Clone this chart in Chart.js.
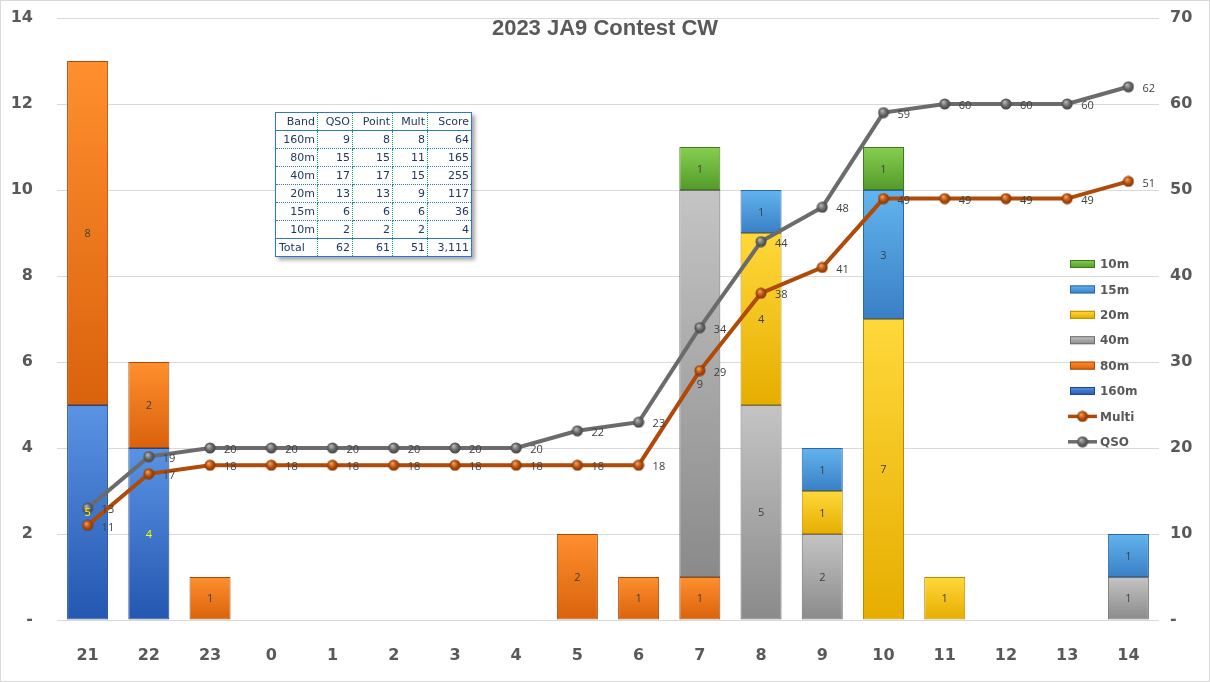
<!DOCTYPE html>
<html><head><meta charset="utf-8">
<script src="https://cdn.jsdelivr.net/npm/chart.js@4"></script>
<style>
html,body{margin:0;padding:0;background:#fff;}
#wrap{position:relative;width:1210px;height:682px;overflow:hidden;}
#c{position:absolute;left:0;top:0;}
#tbl{position:absolute;left:275px;top:112px;border-collapse:collapse;font:11px "DejaVu Sans",sans-serif;color:#1f3864;background:#fff;border:1.5px solid #2f75d6;box-shadow:3px 3px 4px rgba(0,0,0,0.35);table-layout:fixed;}
#tbl td{height:17px;padding:0 2px 0 0;text-align:right;border-right:1px dotted #00b050;border-bottom:1px dotted #2f75d6;white-space:nowrap;line-height:17px;}
#tbl td:last-child{border-right:none;}
#tbl tr.h td{border-bottom:1px solid #2f75d6;}
#tbl tr.t td{border-top:1px solid #2f75d6;border-bottom:none;text-align:right;}
#tbl tr.t td:first-child{text-align:left;padding-left:3px;}
</style>
</head><body>
<div id="wrap"><canvas id="c" width="1210" height="682"></canvas><table id="tbl"></table></div>
<script>
const hours = ['21','22','23','0','1','2','3','4','5','6','7','8','9','10','11','12','13','14'];
const b160 = [5,4,0,0,0,0,0,0,0,0,0,0,0,0,0,0,0,0];
const b80  = [8,2,1,0,0,0,0,0,2,1,1,0,0,0,0,0,0,0];
const b40  = [0,0,0,0,0,0,0,0,0,0,9,5,2,0,0,0,0,1];
const b20  = [0,0,0,0,0,0,0,0,0,0,0,4,1,7,1,0,0,0];
const b15  = [0,0,0,0,0,0,0,0,0,0,0,1,1,3,0,0,0,1];
const b10  = [0,0,0,0,0,0,0,0,0,0,1,0,0,1,0,0,0,0];
const qso  = [13,19,20,20,20,20,20,20,22,23,34,44,48,59,60,60,60,62];
const multi= [11,17,18,18,18,18,18,18,18,18,29,38,41,49,49,49,49,51];
const leftTicks = [0,2,4,6,8,10,12,14];
const rightTicks = [0,10,20,30,40,50,60,70];
const tableHead = ['Band','QSO','Point','Mult','Score'];
const tableRows = [
  ['160m','9','8','8','64'],
  ['80m','15','15','11','165'],
  ['40m','17','17','15','255'],
  ['20m','13','13','9','117'],
  ['15m','6','6','6','36'],
  ['10m','2','2','2','4']
];
const tableTotal = ['Total','62','61','51','3,111'];
const title = '2023 JA9 Contest CW';

// table
(function(){
  const t = document.getElementById('tbl');
  const widths=[42,35,40,35,44];
  let cg='<colgroup>'+widths.map(w=>'<col style="width:'+w+'px">').join('')+'</colgroup>';
  let h='<tr class="h">'+tableHead.map(x=>'<td>'+x+'</td>').join('')+'</tr>';
  let b=tableRows.map(r=>'<tr>'+r.map(x=>'<td>'+x+'</td>').join('')+'</tr>').join('');
  let tt='<tr class="t">'+tableTotal.map(x=>'<td>'+x+'</td>').join('')+'</tr>';
  t.innerHTML=cg+h+b+tt;
})();

const bandDefs = [
  {label:'160m', data:b160, top:'#5a93e4', bot:'#2457b0', edge:'#1d4690', lab:'#ffff00'},
  {label:'80m',  data:b80,  top:'#ff8f2e', bot:'#d9620c', edge:'#a9490a', lab:'#404040'},
  {label:'40m',  data:b40,  top:'#c4c4c4', bot:'#8a8a8a', edge:'#6e6e6e', lab:'#404040'},
  {label:'20m',  data:b20,  top:'#ffd83a', bot:'#e6ad00', edge:'#b88a00', lab:'#404040'},
  {label:'15m',  data:b15,  top:'#62b4ee', bot:'#3a7fc6', edge:'#2d66a4', lab:'#404040'},
  {label:'10m',  data:b10,  top:'#86cf50', bot:'#549a2a', edge:'#3f7a1e', lab:'#404040'}
];

function sphere(base, light, dark){
  const c=document.createElement('canvas'); const r=5.5; c.width=c.height=12;
  const g=c.getContext('2d');
  const gr=g.createRadialGradient(4.5,4,0.5,6,6,6);
  gr.addColorStop(0,light); gr.addColorStop(0.5,base); gr.addColorStop(1,dark);
  g.fillStyle=gr; g.beginPath(); g.arc(6,6,r,0,Math.PI*2); g.fill();
  return c;
}
const qsoPt = sphere('#6a6a6a','#b5b5b5','#3c3c3c');
const mulPt = sphere('#b8500c','#f0a060','#7a3000');

function barGrad(def, di){
  return function(ctx){
    if(ctx.type!=='data') return def.top;
    const ch=ctx.chart, y=ch.scales && ch.scales.y;
    if(!y || !ch.chartArea) return def.top;
    const i=ctx.dataIndex;
    let start=0; for(let k=0;k<di;k++) start+=bandDefs[k].data[i];
    const end=start+def.data[i];
    const p0=y.getPixelForValue(end), p1=y.getPixelForValue(start);
    if(!isFinite(p0)||!isFinite(p1)||p0===p1) return def.top;
    const g=ch.ctx.createLinearGradient(0,p0,0,p1);
    g.addColorStop(0,def.top); g.addColorStop(1,def.bot);
    return g;
  };
}

const datasets = [
  {type:'line', label:'QSO', data:qso, yAxisID:'y1', borderColor:'#6b6b6b', borderWidth:4, pointStyle:qsoPt, pointRadius:6, order:0, labColor:'#404040'},
  {type:'line', label:'Multi', data:multi, yAxisID:'y1', borderColor:'#b04a08', borderWidth:4, pointStyle:mulPt, pointRadius:6, order:0, labColor:'#404040'}
];
bandDefs.forEach((d,di)=>{
  datasets.push({type:'bar', label:d.label, data:d.data, yAxisID:'y', stack:'s', order:1,
    backgroundColor:barGrad(d,di), borderColor:d.edge, borderWidth:1, borderSkipped:false,
    barPercentage:0.67, categoryPercentage:1, labColor:d.lab});
});

const labelsPlugin = {
  id:'labs',
  afterDatasetsDraw(chart){
    const c=chart.ctx; c.save();
    c.font='11px "Open Sans", sans-serif';
    chart.data.datasets.forEach((ds,i)=>{
      const meta=chart.getDatasetMeta(i);
      meta.data.forEach((el,j)=>{
        const v=ds.data[j];
        if(ds.type==='bar'){
          if(!v) return;
          c.fillStyle=ds.labColor; c.textAlign='center'; c.textBaseline='middle';
          c.fillText(String(v), el.x, (el.y+el.base)/2+1);
        } else {
          c.fillStyle=ds.labColor; c.textAlign='left'; c.textBaseline='middle';
          c.fillText(String(v), el.x+14, el.y+2);
        }
      });
    });
    c.restore();
  }
};
const decoPlugin = {
  id:'deco',
  afterDraw(chart){
    const c=chart.ctx; c.save();
    // title
    c.fillStyle='#595959'; c.font='bold 22px "Liberation Sans", sans-serif';
    c.textAlign='center'; c.textBaseline='middle';
    c.fillText(title, 605, 29);
    // legend
    const order=['10m','15m','20m','40m','80m','160m','Multi','QSO'];
    c.font='bold 12px "DejaVu Sans", sans-serif'; c.textAlign='left';
    order.forEach((name,k)=>{
      const yy=264+k*25.4;
      if(k<6){
        const d=bandDefs.find(b=>b.label===name);
        const g=c.createLinearGradient(0,yy-4,0,yy+4);
        g.addColorStop(0,d.top); g.addColorStop(1,d.bot);
        c.fillStyle=g; c.fillRect(1070,yy-4,25,8);
        c.strokeStyle=d.edge; c.lineWidth=1; c.strokeRect(1070.5,yy-3.5,24,7);
      } else {
        const ds=datasets.find(x=>x.label===name);
        c.strokeStyle=ds.borderColor; c.lineWidth=3.5;
        c.beginPath(); c.moveTo(1068,yy); c.lineTo(1097,yy); c.stroke();
        c.drawImage(ds.pointStyle,1082.5-6,yy-6);
      }
      c.fillStyle='#595959';
      c.fillText(name,1100,yy+1);
    });
    // outer border
    c.strokeStyle='#d9d9d9'; c.lineWidth=1; c.strokeRect(0.5,0.5,1209,681);
    c.restore();
  }
};

function fixV(w){ return function(s){ s.width=w; s.paddingTop=0; s.paddingBottom=0; }; }

new Chart(document.getElementById('c'),{
  data:{labels:hours, datasets},
  options:{
    responsive:false, animation:false,
    layout:{padding:{top:18,left:0,right:0,bottom:0}},
    plugins:{legend:{display:false}, tooltip:{enabled:false}, title:{display:false}},
    scales:{
      x:{stacked:true, grid:{display:false}, border:{display:false},
         ticks:{color:'#595959', font:{family:'"DejaVu Sans"', size:16, weight:'bold'}, padding:18, maxRotation:0},
         afterFit(s){s.height=62; s.paddingLeft=0; s.paddingRight=0;}},
      y:{position:'left', stacked:true, min:0, max:14,
         afterBuildTicks(s){s.ticks=leftTicks.map(v=>({value:v}));},
         grid:{color:'#d9d9d9', drawTicks:false}, border:{display:false},
         ticks:{color:'#595959', font:{family:'"DejaVu Sans"', size:16, weight:'bold'}, padding:24, callback:v=>v===0?'-':String(v)},
         afterFit:fixV(57)},
      y1:{position:'right', min:0, max:70,
         afterBuildTicks(s){s.ticks=rightTicks.map(v=>({value:v}));},
         grid:{display:false, drawTicks:false}, border:{display:false},
         ticks:{color:'#595959', font:{family:'"DejaVu Sans"', size:16, weight:'bold'}, padding:11, callback:v=>v===0?'-':String(v)},
         afterFit:fixV(51)}
    }
  },
  plugins:[labelsPlugin, decoPlugin]
});
</script>
</body></html>
